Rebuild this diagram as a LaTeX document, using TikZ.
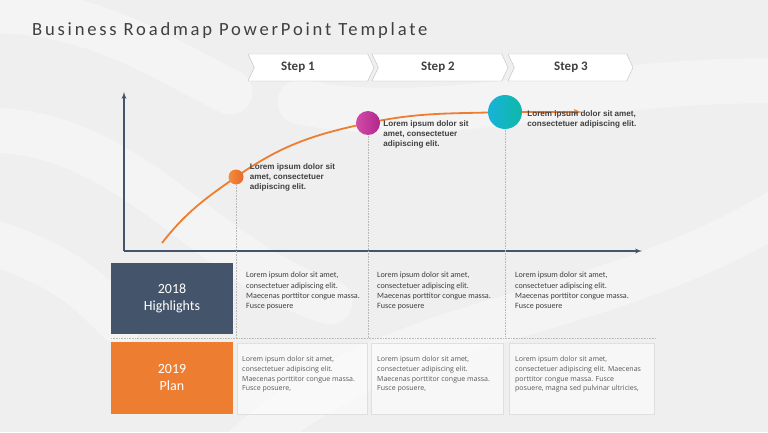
\documentclass[tikz,border=0pt]{standalone}
\usepackage{fontspec}
\setmainfont{Carlito}
\newfontfamily\titlefont[LetterSpace=15]{Carlito}
\newfontfamily\calloutfont{Liberation Sans}
\newfontfamily\planfont{Open Sans}
\usepackage{tikz}
\usetikzlibrary{arrows, positioning, shapes}

\definecolor{slate}{HTML}{44546A}
\definecolor{roadorange}{HTML}{ED7D31}
\definecolor{textgray}{HTML}{404040}
\definecolor{stepgray}{HTML}{595959}
\definecolor{chevronline}{HTML}{BFBFBF}
\definecolor{backgray}{HTML}{EFEFEF}
\definecolor{dotorangeA}{HTML}{F58D3C}
\definecolor{dotorangeB}{HTML}{E8682A}
\definecolor{dotpinkA}{HTML}{D24BA8}
\definecolor{dotpinkB}{HTML}{B0278A}
\definecolor{dottealA}{HTML}{17B3D8}
\definecolor{dottealB}{HTML}{0FB7A8}

\begin{document}
\begin{tikzpicture}[x=1pt, y=1pt,
  stepbox/.style={draw=chevronline, fill=white, signal, signal to=east, signal from=west,
    signal pointer angle=130, minimum height=27pt, inner sep=0pt},
  steplabel/.style={font=\bfseries\fontsize{13}{15}\selectfont, text=textgray},
  yearbox/.style={minimum width=122pt, minimum height=71pt, align=center, text=white,
    font=\fontsize{14}{17}\selectfont},
  ball/.style={circle, inner sep=0pt},
  callout/.style={font=\calloutfont\bfseries\fontsize{8.1}{10}\selectfont, text=textgray,
    align=left, inner sep=0pt},
  hltext/.style={font=\fontsize{8.1}{10.3}\selectfont, text=textgray, align=left,
    anchor=north west, inner sep=0pt},
  plantext/.style={font=\planfont\fontsize{7}{9.8}\selectfont, text=stepgray, align=left,
    anchor=north west, inner sep=0pt},
  planbox/.style={draw=gray!25, fill=white, fill opacity=0.5, minimum height=71pt, inner sep=0pt},
  guide/.style={densely dotted, gray!55, line width=0.6pt},
  axis/.style={draw=slate, line width=1.3pt, -latex'},
  trend/.style={draw=roadorange, line width=1.8pt, -latex'},
  wave/.style={white, opacity=0.35, line width=45pt, line cap=round},
]

% background
\fill[backgray] (0,0) rectangle (768,432);
\useasboundingbox (0,0) rectangle (768,432);
\draw[wave] (-40,300) .. controls (120,320) and (200,170) .. (330,130);
\draw[wave] (240,-20) .. controls (400,130) and (600,100) .. (810,240);
\draw[wave] (300,330) .. controls (450,300) and (600,360) .. (810,350);
\draw[wave] (-40,200) .. controls (60,170) and (80,150) .. (120,110);
\draw[wave] (-40,420) .. controls (80,430) and (150,380) .. (230,340);

% title
\node[anchor=base west, inner sep=0pt, text=textgray, font=\titlefont\fontsize{18.6}{20}\selectfont]
  (title) at (32,396) {Business Roadmap PowerPoint Template};

% steps
\node[stepbox, minimum width=126pt] (step1) at (311,364.5) {};
\node[stepbox, minimum width=136pt] (step2) at (440,364.5) {};
\node[stepbox, minimum width=125pt] (step3) at (570.5,364.5) {};
\node[steplabel] (step1 text) at (298,364.5) {Step 1};
\node[steplabel] (step2 text) at (438,364.5) {Step 2};
\node[steplabel] (step3 text) at (571,364.5) {Step 3};

% axes
\coordinate (origin) at (124,181);
\coordinate (ytop) at (124,340);
\coordinate (xend) at (642,181);
\draw[axis] (origin) -- (ytop);
\draw[axis] (origin) -- (xend);

% separator between the rows
\coordinate (sepleft) at (111,94);
\coordinate (sepright) at (656,94);
\draw[guide] (sepleft) -- (sepright);

% milestones on the curve
\coordinate (start) at (162,189);
\coordinate (p1) at (236,255);
\coordinate (p2) at (368,309);
\coordinate (p3) at (505,320);
\coordinate (tip) at (582,320);

\draw[guide] (p1) -- (p1 |- sepleft);
\draw[guide] (p2) -- (p2 |- sepleft);
\draw[guide] (p3) -- (p3 |- sepleft);

\draw[trend] (start) to[out=52, in=215] (p1) to[out=35, in=192] (p2)
  to[out=12, in=182] (p3) -- (tip);

\node[ball, minimum size=15pt, left color=dotorangeA, right color=dotorangeB] (dot1) at (p1) {};
\node[ball, minimum size=24pt, left color=dotpinkA, right color=dotpinkB] (dot2) at (p2) {};
\node[ball, minimum size=34pt, left color=dottealA, right color=dottealB] (dot3) at (p3) {};

\node[callout, right=6pt of dot1] (note1) {Lorem ipsum dolor sit\\amet, consectetuer\\adipiscing elit.};
\node[callout, right=3pt of dot2, yshift=-11pt] (note2) {Lorem ipsum dolor sit\\amet, consectetuer\\adipiscing elit.};
\node[callout, right=5pt of dot3, yshift=-7pt] (note3) {Lorem ipsum dolor sit amet,\\consectetuer adipiscing elit.};

% 2018 row
\node[yearbox, fill=slate] (highlights) at (172,133.5) {2018\\Highlights};
\node[hltext] (hl1) at (246,160) {Lorem ipsum dolor sit amet,\\consectetuer adipiscing elit.\\Maecenas porttitor congue massa.\\Fusce posuere};
\node[hltext] (hl2) at (377,160) {Lorem ipsum dolor sit amet,\\consectetuer adipiscing elit.\\Maecenas porttitor congue massa.\\Fusce posuere};
\node[hltext] (hl3) at (515,160) {Lorem ipsum dolor sit amet,\\consectetuer adipiscing elit.\\Maecenas porttitor congue massa.\\Fusce posuere};

% 2019 row
\node[yearbox, fill=roadorange, minimum height=72pt] (plan) at (172,54) {2019\\Plan};
\node[planbox, minimum width=130pt] (box1) at (302,53.5) {};
\node[planbox, minimum width=132pt] (box2) at (437,53.5) {};
\node[planbox, minimum width=145pt] (box3) at (581.5,53.5) {};
\node[plantext] (plan1) at (242,76) {Lorem ipsum dolor sit amet,\\consectetuer adipiscing elit.\\Maecenas porttitor congue massa.\\Fusce posuere,};
\node[plantext] (plan2) at (377,76) {Lorem ipsum dolor sit amet,\\consectetuer adipiscing elit.\\Maecenas porttitor congue massa.\\Fusce posuere,};
\node[plantext] (plan3) at (515,76) {Lorem ipsum dolor sit amet,\\consectetuer adipiscing elit. Maecenas\\porttitor congue massa. Fusce\\posuere, magna sed pulvinar ultricies,};

\end{tikzpicture}
\end{document}
